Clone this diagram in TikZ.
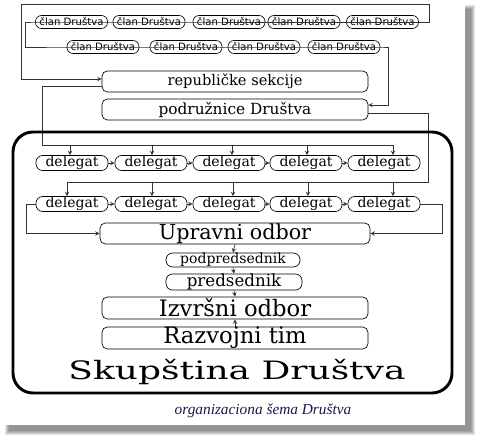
\documentclass[tikz,border=0pt]{standalone}
\usepackage{fontspec}
\usepackage{tikz}
\usetikzlibrary{arrows, positioning}
\newfontfamily\clanfont{DejaVu Sans}
\newfontfamily\boxfont{DejaVu Serif}
\newfontfamily\capfont{Liberation Serif}
\definecolor{capblue}{RGB}{25,25,80}
\tikzset{>=stealth}
\tikzset{
  clan/.style={draw, rounded corners=4.5pt, minimum width=54pt, minimum height=9.75pt, inner sep=0pt, font=\clanfont\fontsize{7.6}{8}\selectfont},
  delegat/.style={draw, rounded corners=5pt, minimum width=54pt, minimum height=11.25pt, inner sep=0pt, font=\boxfont\fontsize{10.5}{12}\selectfont},
  bigbox/.style={draw, rounded corners=4pt, minimum width=199.5pt, minimum height=15.75pt, inner sep=0pt},
  smallbox/.style={draw, rounded corners=5pt, minimum width=100.5pt, minimum height=10.5pt, inner sep=0pt},
  link/.style={draw=black!80, line width=0.5pt}
}
\begin{document}
\begin{tikzpicture}[x=0.75pt, y=-0.75pt, >=stealth, line width=0.5pt]
        % page with shadow
        \fill[white] (0,0) rectangle (481,441);
        \foreach \r in {4,3,2,1,0}
        {
            \fill[black, opacity=0.1] (9-\r,9-\r) rectangle (471+\r,431+\r);
        }
        \fill[white] (0,0) rectangle (465,425);
        % members
        \foreach \x [count=\i] in {71.5,149,229,304,382.5}
        {
            \node[clan] (c\i) at (\x,22) {član Društva};
        }
        \foreach \x [count=\i] in {103,186,264,344}
        {
            \node[clan] (m\i) at (\x,47) {član Društva};
        }
        \node[bigbox, font=\boxfont\fontsize{11}{13}\selectfont] (rep) at (235,81.5) {republičke sekcije};
        \node[bigbox, font=\boxfont\fontsize{11.5}{13}\selectfont] (pod) at (235,109.5) {podružnice Društva};
        \coordinate (tl) at (21,4);
        \draw[link, ->] (c5.east) -- ++(10,0) |- (tl) |- ([yshift=1.9pt]rep.west);
        \draw[link, ->] (c5.east) -- (c1.west) -- ++(-10,0) |- (m1.west) -- (m4.east) -- ++(8,0) |- ([yshift=3.4pt]pod.east);
        % delegates
        \foreach \x [count=\i] in {72,151,229,306,384}
        {
            \node[delegat] (dA\i) at (\x,163) {delegat};
            \node[delegat] (dB\i) at (\x,204) {delegat};
        }
        \coordinate (busA) at (42,145);
        \coordinate (busB) at (428,182);
        \draw[link] ([yshift=-3.4pt]rep.west) -| (busA) -- (393,145);
        \draw[link] ([yshift=-2.6pt]pod.east) -| (busB) -- (67,182);
        \foreach \i/\x in {1/70,2/152,3/232,4/307,5/393}
        {
            \coordinate (pA\i) at (\x,145);
            \draw[link, ->] (pA\i) -- (pA\i |- dA\i.north);
        }
        \foreach \i/\x in {1/67,2/152,3/233,4/308,5/393}
        {
            \coordinate (pB\i) at (\x,182);
            \draw[link, ->] (pB\i) -- (pB\i |- dB\i.north);
        }
        \foreach \i/\j in {1/2,2/3,3/4,4/5}
        {
            \draw[link, ->] (dA\i.east) -- (dA\j.west);
            \draw[link, ->] (dB\i.east) -- (dB\j.west);
        }
        % assembly
        \draw[line width=2.2pt, rounded corners=15pt] (13,132) rectangle (452,393);
        \node[bigbox, minimum width=202.5pt, font=\boxfont\fontsize{15.5}{17}\selectfont] (upr) at (235,233.5) {Upravni odbor};
        \draw[link, ->] (dB1.west) -- ++(-9,0) |- (upr.west);
        \draw[link, ->] (dB5.east) -- ++(22,0) |- (upr.east);
        \node[smallbox, font=\boxfont\fontsize{10.5}{12}\selectfont] (podp) at (233,260) {podpredsednik};
        \node[smallbox, minimum width=102pt, font=\boxfont\fontsize{12.5}{14}\selectfont] (pred) at (234,282) {predsednik};
        \node[bigbox, minimum height=16.5pt, font=\boxfont\fontsize{17}{19}\selectfont] (izv) at (235,308) {Izvršni odbor};
        \node[bigbox, minimum height=16.5pt, font=\boxfont\fontsize{17}{19}\selectfont] (raz) at (235,338) {Razvojni tim};
        \draw[link, ->] (upr.south) -- (podp.north);
        \draw[link, ->] (podp.south) -- (pred.north);
        \draw[link, ->] (pred.south) -- (izv.north);
        \draw[link, ->] (raz.north) -- (izv.south);
        \node[font=\boxfont\fontsize{19}{22}\selectfont] (skup) at (237,372) {\scalebox{1.42}[1]{Skupština Društva}};
        \node[text=capblue, font=\capfont\itshape\fontsize{11.5}{13}\selectfont] (cap) at (263,411) {organizaciona šema Društva};
    \end{tikzpicture}
\end{document}
